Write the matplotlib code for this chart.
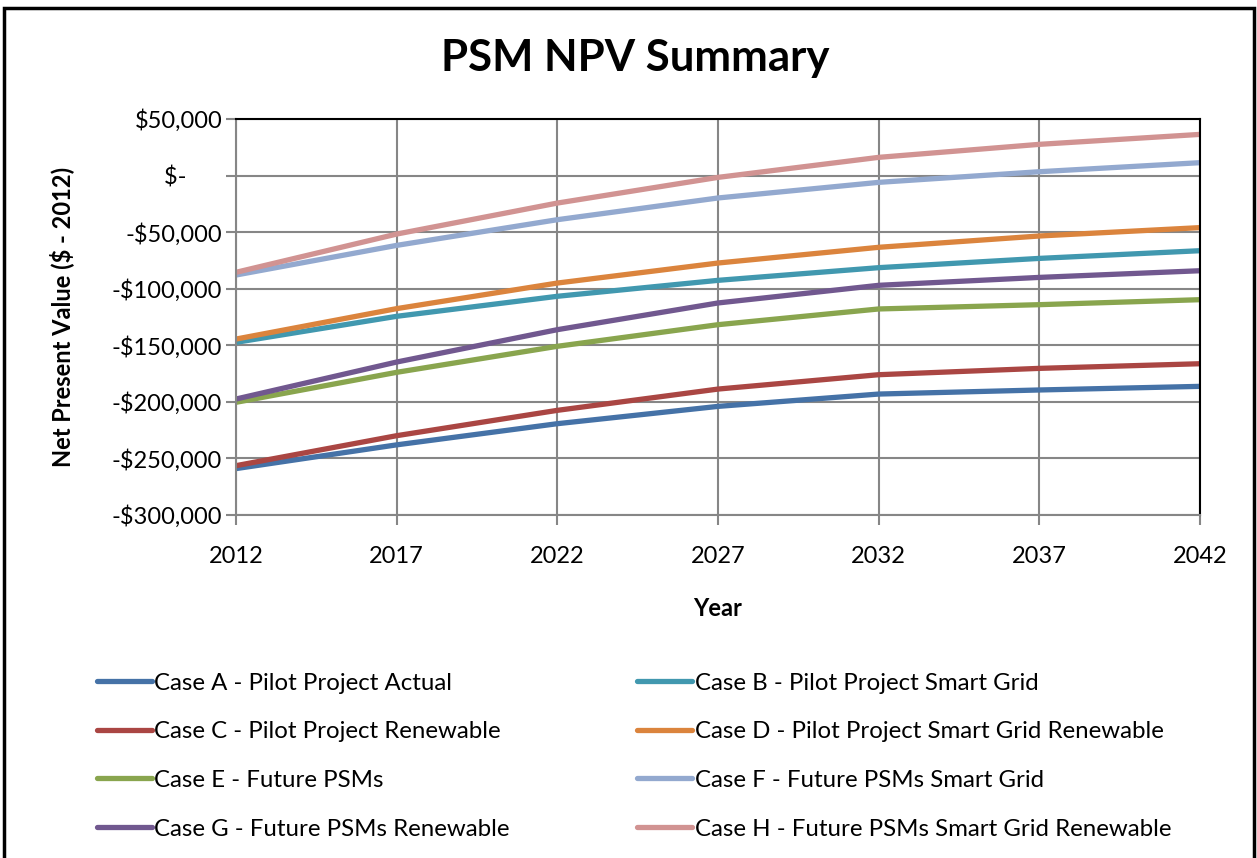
import matplotlib
matplotlib.use('Agg')
import matplotlib.pyplot as plt
from matplotlib.patches import Rectangle
from matplotlib.ticker import FuncFormatter

plt.rcParams['font.family'] = ['Lato', 'DejaVu Sans']

# data
years = [2012, 2017, 2022, 2027, 2032, 2037, 2042]
case_a = [-259000, -238000, -219300, -204000, -193100, -189500, -186300]
case_b = [-147400, -124400, -106700, -92600, -81400, -73200, -66400]
case_c = [-256400, -229900, -207500, -188700, -176000, -170400, -166300]
case_d = [-144500, -117600, -95000, -77300, -63400, -53400, -46000]
case_e = [-200400, -173900, -150900, -131800, -117900, -114100, -109700]
case_f = [-87900, -61700, -39000, -19800, -6000, 3400, 11400]
case_g = [-197500, -164800, -136200, -112600, -97000, -90000, -84100]
case_h = [-85500, -51700, -24300, -1600, 16100, 27600, 36400]

labels = ["Case A - Pilot Project Actual", "Case B - Pilot Project Smart Grid",
          "Case C - Pilot Project Renewable", "Case D - Pilot Project Smart Grid Renewable",
          "Case E - Future PSMs", "Case F - Future PSMs Smart Grid",
          "Case G - Future PSMs Renewable", "Case H - Future PSMs Smart Grid Renewable"]
series = [case_a, case_b, case_c, case_d, case_e, case_f, case_g, case_h]
colors = ['#4572A7', '#4198AF', '#AA4643', '#DB843D',
          '#89A54E', '#93A9CF', '#71588F', '#D19392']

fig = plt.figure(figsize=(12.57, 8.58), dpi=100)
ax = fig.add_axes([236/1257, 1-515/858, (1200-236)/1257, (515-119)/858])

handles = []
for vals, lab, col in zip(series, labels, colors):
    h, = ax.plot(years, vals, color=col, lw=3.8, label=lab, solid_capstyle='round')
    handles.append(h)

ax.set_xlim(2012, 2042)
ax.set_ylim(-300000, 50000)
ax.set_xticks(range(2012, 2043, 5))
ax.set_yticks(range(-300000, 50001, 50000))

def money(v, pos):
    if v == 0:
        return "$-      "
    if v < 0:
        return "-${:,.0f}".format(-v)
    return "${:,.0f}".format(v)

ax.yaxis.set_major_formatter(FuncFormatter(money))
ax.grid(True, color='#868686', lw=1.5)
ax.set_axisbelow(True)
ax.tick_params(axis='both', labelsize=17, color='#868686', width=1.5, length=7, direction='out')
ax.tick_params(axis='x', pad=15)
ax.tick_params(axis='y', pad=3)
for s in ['left', 'bottom']:
    ax.spines[s].set_color('#868686')
    ax.spines[s].set_linewidth(1.5)
for s in ['top', 'right']:
    ax.spines[s].set_color('black')
    ax.spines[s].set_linewidth(1.5)

ax.set_xlabel("Year", fontsize=17, fontweight='bold', labelpad=22)
ax.set_ylabel("Net Present Value ($ - 2012)", fontsize=17, fontweight='bold', labelpad=27)
fig.text(0.505, 1-58/858, "PSM NPV Summary", fontsize=31.5, fontweight='bold',
         ha='center', va='center')

# Excel fills legend row by row, matplotlib column by column
order = [0, 2, 4, 6, 1, 3, 5, 7]
fig.legend(handles=[handles[i] for i in order], ncol=2, loc='upper left',
           bbox_to_anchor=(75/1257, 1-651/858),
           frameon=False, fontsize=17.3, handlelength=2.3, handletextpad=0.1,
           columnspacing=5.3, labelspacing=1.15)

fig.patches.append(Rectangle((4/1257, -0.05), 1250/1257, 1.05-8/858, transform=fig.transFigure,
                             fill=False, edgecolor='black', lw=2.5))

fig.savefig("out.png", dpi=100)
